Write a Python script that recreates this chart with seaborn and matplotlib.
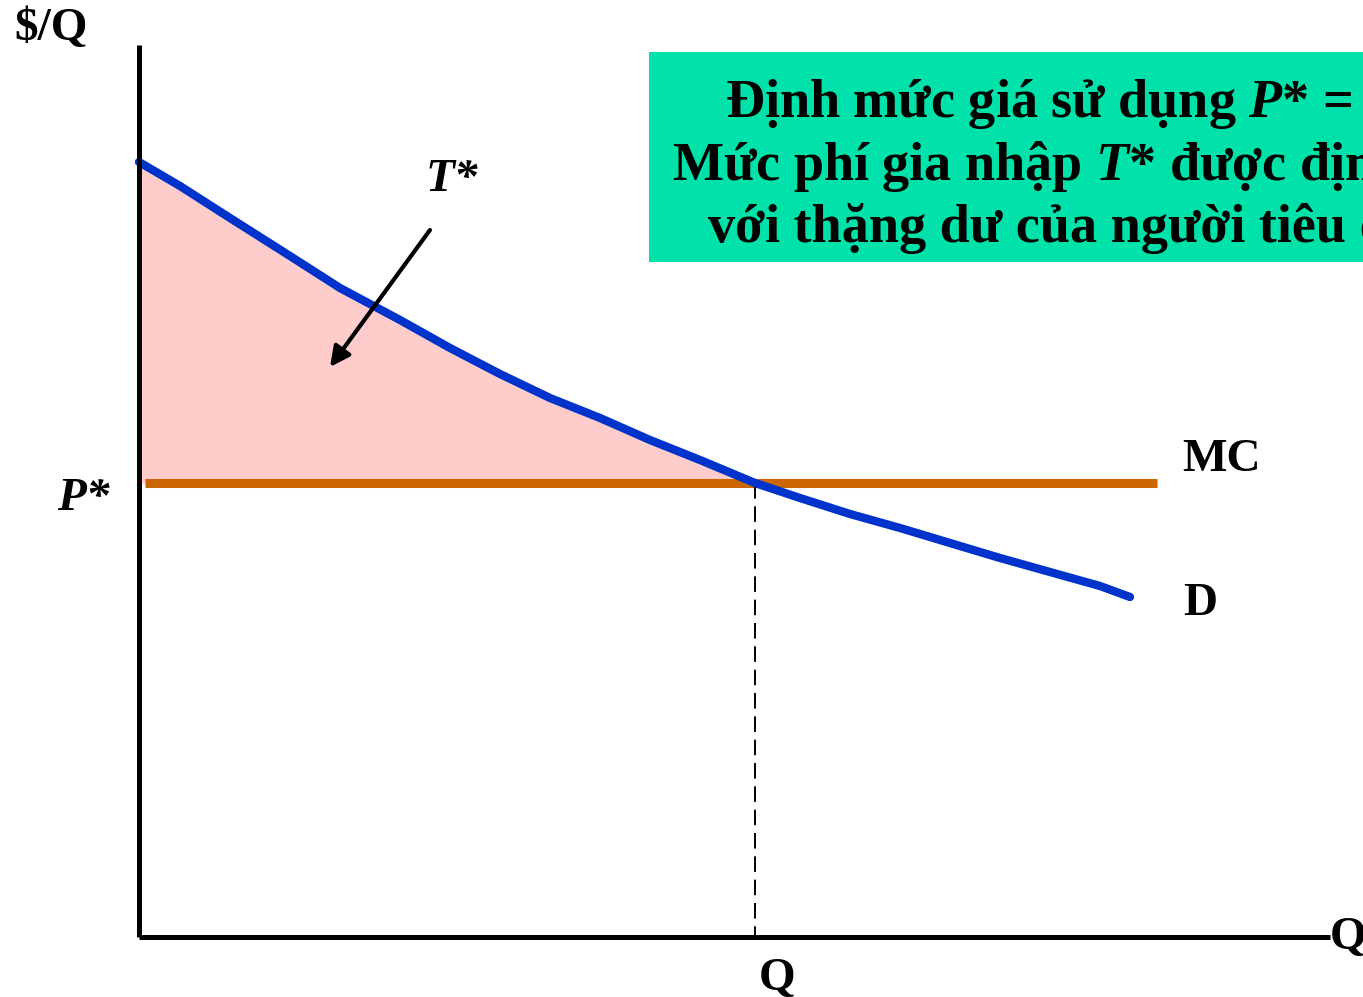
import matplotlib
matplotlib.use("Agg")
import matplotlib.pyplot as plt
from matplotlib.patches import Rectangle
import numpy as np
import pandas as pd
import seaborn as sns

# ---- data (abstract units: 1 unit ~ 100 px) ----
demand_q = [0.00, 0.41, 0.91, 1.51, 2.01, 2.61, 3.11, 3.61, 4.11, 4.61, 5.11,
            5.61, 6.16, 6.61, 7.11, 7.61, 8.11, 8.61, 9.11, 9.61, 9.91]
demand_p = [7.75, 7.51, 7.19, 6.81, 6.49, 6.17, 5.89, 5.63, 5.39, 5.19, 4.97,
            4.77, 4.54, 4.39, 4.23, 4.09, 3.94, 3.79, 3.65, 3.51, 3.40]
mc_price = 4.54
mc_q_range = [0.06, 10.18]
q_star = 6.16

box_lines = [
    "Định mức giá sử dụng $P$* = MC",
    "Mức phí gia nhập $T$* được định bằng",
    "với thặng dư của người tiêu dùng",
]

sns.set_style("white")
plt.rcParams["font.family"] = ["Liberation Serif", "DejaVu Serif"]
plt.rcParams["text.color"] = "black"
plt.rcParams["mathtext.fontset"] = "custom"
plt.rcParams["mathtext.it"] = "Liberation Serif:italic:bold"
plt.rcParams["mathtext.rm"] = "Liberation Serif:bold"
plt.rcParams["mathtext.bf"] = "Liberation Serif:bold"

fig = plt.figure(figsize=(13.63, 9.97), dpi=100)
ax = fig.add_axes([0, 0, 1, 1])
ax.set_xlim(-1.39, 12.24)
ax.set_ylim(-0.60, 9.37)
ax.axis("off")

df = pd.DataFrame({"Q": demand_q, "P": demand_p})

# shaded consumer surplus area T*
dq = np.array(demand_q)
dp = np.array(demand_p)
mask = dq <= q_star + 1e-9
ax.fill_between(dq[mask], dp[mask], mc_price, color="#FFCCCC", lw=0, zorder=1)

# MC line
sns.lineplot(x=mc_q_range, y=[mc_price, mc_price], ax=ax, color="#CC6600",
             linewidth=6.5, zorder=2, solid_capstyle="butt")

# demand curve
sns.lineplot(data=df, x="Q", y="P", ax=ax, color="#0033CC", linewidth=6,
             zorder=3, solid_capstyle="round", sort=False)

# dashed vertical at Q
ax.plot([q_star, q_star], [mc_price, 0], color="black", lw=1.4,
        dashes=(8, 4), zorder=2)

# axes lines
ax.plot([0, 0], [0, 8.92], color="black", lw=3.6, zorder=4, solid_capstyle="butt")
ax.plot([0, 11.91], [0, 0], color="black", lw=3.6, zorder=4, solid_capstyle="butt")

# arrow T*
ax.annotate("", xy=(1.91, 5.70), xytext=(2.91, 7.07),
            arrowprops=dict(arrowstyle="-|>", color="black", lw=3,
                            mutation_scale=30, shrinkA=0, shrinkB=0), zorder=5)

fs = 34
kw = dict(color="black", fontweight="bold")
ax.text(-1.25, 9.08, "$/Q", fontsize=fs, ha="left", va="center", **kw)
ax.text(-0.56, 4.38, "P*", fontsize=fs, style="italic", ha="center", va="center", **kw)
ax.text(3.13, 7.57, "T*", fontsize=fs, style="italic", ha="center", va="center", **kw)
ax.text(10.43, 4.77, "MC", fontsize=fs, ha="left", va="center", **kw)
ax.text(10.44, 3.33, "D", fontsize=fs, ha="left", va="center", **kw)
ax.text(6.38, -0.53, "Q", fontsize=fs, ha="center", va="baseline", **kw)
ax.text(11.91, -0.12, "Q", fontsize=fs, ha="left", va="baseline", **kw)

# green box
ax.add_patch(Rectangle((5.10, 6.75), 8.0, 2.10, facecolor="#00E2A9",
                       edgecolor="none", zorder=5))
box_x = [5.86, 5.33, 5.69]
box_y = [8.20, 7.57, 6.95]
for t, x, y in zip(box_lines, box_x, box_y):
    ax.text(x, y, t, fontsize=39, ha="left", va="baseline", zorder=6, **kw)

fig.savefig("out.png", dpi=100)
